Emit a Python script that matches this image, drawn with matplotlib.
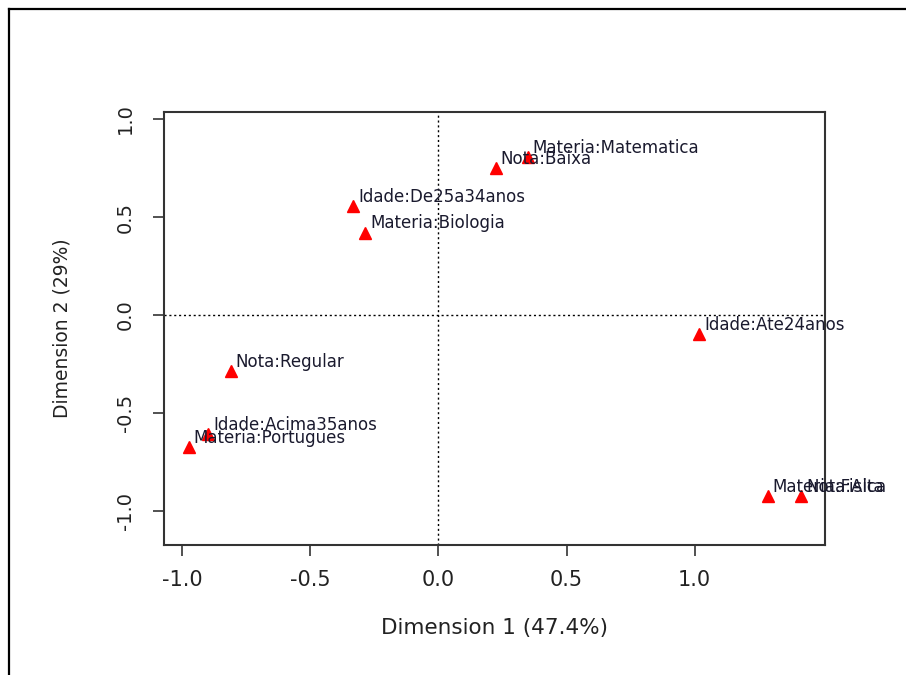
import matplotlib
matplotlib.use("Agg")
import matplotlib.pyplot as plt
from matplotlib.lines import Line2D
from matplotlib.transforms import Bbox, TransformedBbox

plt.rcParams['font.family'] = ['DejaVu Sans']
plt.rcParams['axes.unicode_minus'] = False

labels = ["Materia:Matematica", "Nota:Baixa", "Idade:De25a34anos", "Materia:Biologia",
          "Idade:Ate24anos", "Nota:Regular", "Idade:Acima35anos", "Materia:Portugues",
          "Materia:Fisica", "Nota:Alta"]
dim1 = [0.348, 0.223, -0.332, -0.285, 1.018, -0.809, -0.898, -0.973, 1.285, 1.416]
dim2 = [0.806, 0.750, 0.554, 0.421, -0.097, -0.286, -0.607, -0.673, -0.923, -0.923]
xticks = [-1.0, -0.5, 0.0, 0.5, 1.0]
yticks = [-1.0, -0.5, 0.0, 0.5, 1.0]
xlabel = "Dimension 1 (47.4%)"
ylabel = "Dimension 2 (29%)"

W, H = 906, 675
fig = plt.figure(figsize=(W / 100, H / 100), dpi=100)
L, R, T, B = 164, 825, 112, 545
ax = fig.add_axes([L / W, 1 - B / H, (R - L) / W, (B - T) / H])

ax.set_xlim(-1.070, 1.508)
ax.set_ylim(-1.173, 1.036)

ax.axvline(0, color='black', lw=1.0, ls=(0, (1.5, 2)), zorder=1)
ax.axhline(0, color='black', lw=1.0, ls=(0, (1.5, 2)), zorder=1)

ax.plot(dim1, dim2, linestyle='none', marker='^', color='#ff0000', ms=9, zorder=3)

clipbox = TransformedBbox(Bbox([[0, 0], [888 / W, 1]]), fig.transFigure)
for lab, x, y in zip(labels, dim1, dim2):
    t = ax.annotate(lab, (x, y), xytext=(3.5, 3), textcoords='offset points',
                    ha='left', va='baseline', fontsize=12, color='#1a1a2e',
                    annotation_clip=False, zorder=4)
    t.set_clip_on(True)
    t.set_clip_box(clipbox)

ax.set_xticks(xticks)
ax.set_xticklabels([f"{v:.1f}" for v in xticks])
ax.set_yticks(yticks)
ax.set_yticklabels([f"{v:.1f}" for v in yticks], rotation=90, va='center')

ax.tick_params(axis='x', length=8, width=1.2, pad=10, labelsize=15, colors='#333333',
               labelcolor='#222222')
ax.tick_params(axis='y', length=8, width=1.2, pad=13, labelsize=14, colors='#333333',
               labelcolor='#222222')

for s in ax.spines.values():
    s.set_linewidth(1.5)
    s.set_color('#333333')

ax.set_xlabel(xlabel, fontsize=15.5, color='#222222')
ax.xaxis.set_label_coords(0.5, (B - 628) / (B - T))
ax.xaxis.label.set_verticalalignment('center')
ax.set_ylabel(ylabel, fontsize=13.5, color='#222222')
ax.yaxis.set_label_coords((62 - L) / (R - L), 0.5)
ax.yaxis.label.set_verticalalignment('center')

# outer frame (left and top)
fig.add_artist(Line2D([9 / W, 9 / W], [0, 1 - 9 / H], transform=fig.transFigure,
                      color='black', lw=1.6))
fig.add_artist(Line2D([9 / W, 1], [1 - 9 / H, 1 - 9 / H], transform=fig.transFigure,
                      color='black', lw=1.6))

fig.savefig("out.png", dpi=100)
